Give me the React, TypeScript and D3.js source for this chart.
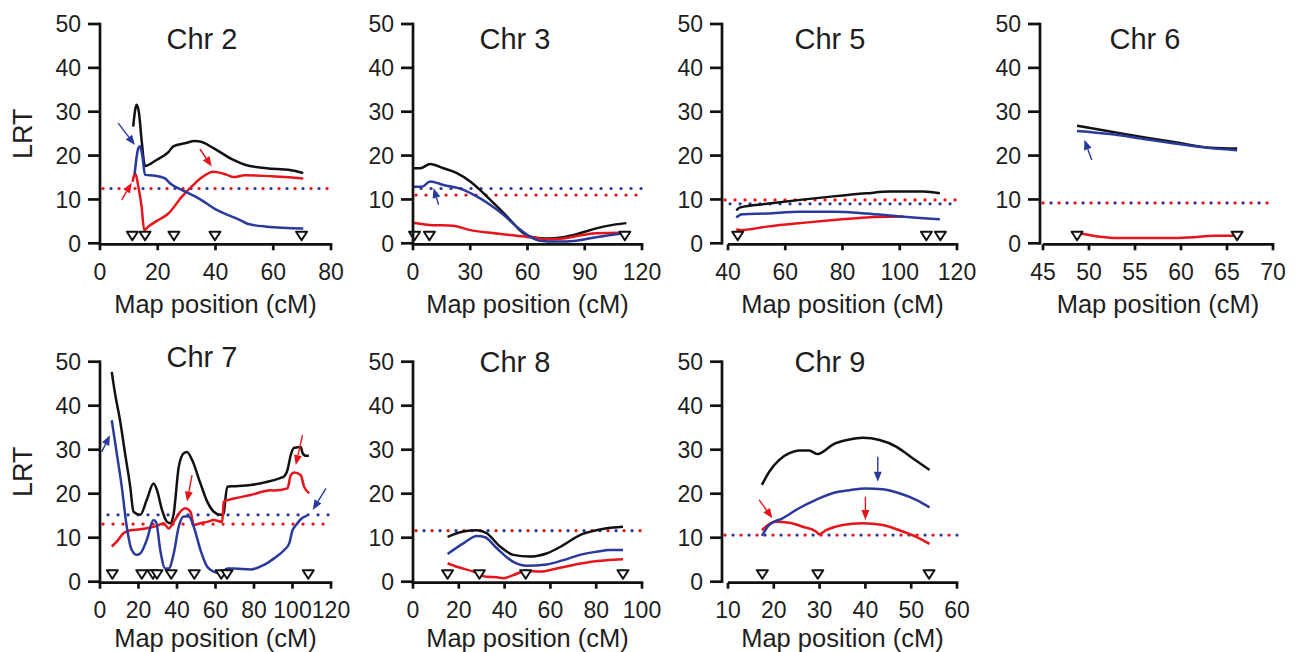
import React from 'react';
import * as d3 from 'd3';

type P = [number, number];

// ---------- data (cM, LRT) ----------
const chr2Black: P[] = [[11.5,26.6],[12.2,30.5],[12.7,31.6],[13.5,29.7],[14.4,23.6],[15.6,17.6],[17.9,18.3],[19.6,19.0],[23.7,20.8],[25.4,22.1],[29.4,22.8],[32.9,23.3],[34.6,23.2],[39.3,21.7],[46.2,19.0],[50.2,17.9],[57.7,17.1],[65.8,16.7],[70.4,16.0]];
const chr2Blue: P[] = [[12.0,15.8],[12.7,19.8],[13.3,21.7],[13.9,22.1],[14.7,19.8],[15.6,15.6],[19.0,15.4],[22.5,14.8],[24.2,13.7],[28.3,12.2],[34.0,10.3],[40.4,7.6],[48.5,5.3],[51.4,4.4],[57.7,3.8],[70.4,3.4]];
const chr2Red: P[] = [[11.3,14.0],[12.1,16.0],[13.3,12.9],[14.4,8.4],[15.3,3.0],[16.7,3.8],[20.2,5.3],[23.7,6.8],[28.3,10.6],[31.7,12.9],[35.2,15.0],[39.3,16.3],[44.0,15.6],[46.2,15.1],[50.2,15.5],[70.4,14.8]];
const chr2Markers = [11.2, 15.6, 25.6, 39.8, 69.8];
const chr2Ticks = [0, 20, 40, 60, 80];

const chr3Black: P[] = [[0,17.1],[3.8,17.1],[9,18.1],[16,17.1],[23,16.0],[30,14.1],[37,11.4],[44,8.4],[51,5.3],[57.8,2.3],[63,1.4],[70,1.1],[78.7,1.4],[87.4,2.3],[96,3.4],[104.8,4.2],[111.8,4.6]];
const chr3Blue: P[] = [[0,12.9],[4.7,12.9],[9,14.1],[16,13.3],[26.5,12.2],[33.4,10.7],[40.4,8.8],[47.4,6.5],[54.3,3.8],[61.3,1.5],[66.5,0.6],[75.2,0.4],[85.7,0.6],[96,1.4],[110,2.3]];
const chr3Red: P[] = [[0,4.7],[9,4.2],[21,4.0],[30,3.0],[40.4,2.4],[50.9,1.9],[61.3,1.4],[70,0.9],[78.7,1.1],[89,1.9],[96,2.3],[110,2.4]];
const chr3Markers = [0.8, 8.6, 111];
const chr3Ticks = [0, 30, 60, 90, 120];

const chr5Black: P[] = [[42.9,7.5],[44.3,8.2],[53.6,9.0],[65.2,9.9],[76.8,10.7],[88.4,11.4],[96.5,11.8],[108.2,11.8],[114,11.4]];
const chr5Blue: P[] = [[42.9,5.9],[44.9,6.6],[53.6,6.8],[65.2,7.2],[76.8,7.2],[88.4,6.8],[100,6.1],[114,5.5]];
const chr5Red: P[] = [[42.9,3.2],[44.3,3.0],[53.6,3.8],[65.2,4.6],[76.8,5.3],[88.4,5.9],[101.2,6.1]];
const chr5Markers = [43.4, 109.3, 114.2];
const chr5Ticks = [40, 60, 80, 100, 120];

const chr6Black: P[] = [[48.7,26.8],[52.3,25.5],[55.9,24.2],[59.5,23.0],[63.2,21.8],[66.1,21.6]];
const chr6Blue: P[] = [[48.7,25.6],[52.3,24.9],[55.9,23.8],[59.5,22.7],[63.2,21.7],[66.1,21.2]];
const chr6Red: P[] = [[48.7,2.3],[49.4,2.1],[51.2,1.5],[53,1.2],[57.7,1.2],[61.4,1.4],[63.5,1.7],[66.1,1.7]];
const chr6Markers = [48.7, 66.1];
const chr6Ticks = [45, 50, 55, 60, 65, 70];

const chr7Black: P[] = [[6.1,47.7],[7.8,42.8],[10.4,36.7],[13,29.2],[15.7,21.6],[17.4,15.9],[20.9,15.2],[24.3,18.6],[27.8,22.3],[29.6,20.8],[32.2,16.3],[34.8,13.6],[36.5,13.3],[38.3,15.5],[40.9,26.1],[43.5,29.2],[45.2,29.5],[47.8,27.7],[52.2,22.3],[55.7,18.2],[59.1,15.9],[62.6,15.2],[64,15.2],[66.1,21.6],[69.6,21.7],[78.3,22.0],[87,22.7],[93.9,23.6],[95.6,23.9],[97.4,25.4],[99.1,28.8],[100.7,30.4],[104.3,30.6],[105.2,29.3],[107,28.6],[108.5,28.6]];
const chr7Blue: P[] = [[6.1,36.7],[8.7,29.2],[11.3,21.6],[13.9,12.5],[16.5,7.2],[19.1,6.1],[20.9,6.4],[24.3,9.5],[27.8,14.0],[29.2,13.5],[31.3,7.2],[33.9,3.0],[35.7,3.0],[38.3,6.4],[40.9,12.5],[43.5,14.8],[46.1,14.8],[48.7,12.5],[52.2,7.2],[55.7,3.4],[59.1,2.3],[62.6,1.9],[66.1,3.0],[69.6,3.0],[78.3,2.8],[85.2,3.8],[90.4,5.3],[95.7,7.2],[98.3,8.7],[100,11.7],[101.7,12.8],[104.3,14.2],[107.5,15.0]];
const chr7Red: P[] = [[6.1,8.0],[8.7,9.1],[12.2,11.0],[15.7,11.7],[20.9,11.9],[26.1,12.3],[29.6,12.7],[33,13.3],[35.7,12.1],[38.3,13.6],[41.7,15.9],[44.3,16.7],[47,15.9],[48.7,12.9],[52.2,13.3],[55.7,13.6],[59.1,14.0],[63.5,13.6],[64.3,18.2],[69.6,18.9],[78.3,19.7],[88.7,20.8],[90.4,20.7],[97.4,21.2],[99.1,24.2],[100.9,24.8],[104.3,24.2],[106,21.6],[108.7,20.1]];
const chr7Markers = [6.4, 21.7, 27.5, 29.6, 37, 49, 63, 66, 108.2];
const chr7Ticks = [0, 20, 40, 60, 80, 100, 120];

const chr8Black: P[] = [[15.1,10.2],[22,11.4],[27.9,11.7],[32.2,11.0],[38,8.0],[43.8,6.1],[51,5.7],[58.3,6.4],[65.6,8.3],[72.9,10.6],[80.1,11.7],[87.4,12.3],[91.7,12.5]];
const chr8Blue: P[] = [[15.1,6.3],[22,8.7],[27.9,10.4],[31.5,10.1],[36.6,7.6],[43.8,4.5],[49.6,3.6],[58.3,3.9],[65.6,4.9],[72.9,6.1],[80.1,6.8],[85.9,7.2],[91.7,7.2]];
const chr8Red: P[] = [[15.1,4.2],[19.2,3.4],[26.4,2.3],[32.2,1.1],[36.6,1.0],[39.5,0.8],[43.8,1.5],[49.6,2.5],[55.4,2.3],[62.7,3.0],[70,3.8],[77.2,4.5],[84.5,4.9],[91.7,5.1]];
const chr8Markers = [15.1, 29, 49.2, 91.7];
const chr8Ticks = [0, 20, 40, 60, 80, 100];

const chr9Black: P[] = [[17.4,22.0],[19,25.0],[21.2,27.7],[23.4,29.2],[25.5,29.8],[27.7,29.8],[29.6,29.0],[30.7,29.5],[32.8,31.1],[36.5,32.3],[39.4,32.7],[43.1,32.2],[46.7,30.7],[50.4,28.0],[54,25.4]];
const chr9Blue: P[] = [[17.4,10.4],[19,12.9],[21.9,14.4],[25.5,16.7],[29.2,18.6],[32.8,20.1],[36.5,20.8],[40.1,21.2],[43.8,21.0],[47.4,20.1],[51.1,18.6],[54,16.9]];
const chr9Red: P[] = [[17.4,11.7],[19,13.1],[20.4,13.6],[23.4,13.4],[26.3,12.5],[29.2,11.4],[29.9,10.8],[31.4,11.7],[35,12.9],[39.4,13.3],[43.8,12.9],[48.2,11.4],[51.1,10.2],[54,8.6]];
const chr9Markers = [17.5, 29.6, 53.9];
const chr9Ticks = [10, 20, 30, 40, 50, 60];

const yTicks = [0, 10, 20, 30, 40, 50];

type Arrow = { c: 'blue' | 'red'; from: P; to: P };
const chr2Arrows: Arrow[] = [
  { c: 'blue', from: [6.3, 27.4], to: [12.1, 22.4] },
  { c: 'red', from: [7.5, 9.9], to: [11, 13.8] },
  { c: 'red', from: [34.6, 21.5], to: [38.7, 17.5] },
];
const chr3Arrows: Arrow[] = [{ c: 'blue', from: [13.4, 8.8], to: [10.8, 12.6] }];
const chr6Arrows: Arrow[] = [{ c: 'blue', from: [50.3, 19.0], to: [49.5, 23.6] }];
const chr7Arrows: Arrow[] = [
  { c: 'blue', from: [0.9, 29.5], to: [5.2, 33.3] },
  { c: 'red', from: [47.8, 24.2], to: [45.2, 18.2] },
  { c: 'red', from: [105.2, 33.3], to: [101.7, 26.5] },
  { c: 'blue', from: [117.4, 21.2], to: [110.5, 16.3] },
];
const chr9Arrows: Arrow[] = [
  { c: 'blue', from: [42.7, 28.4], to: [42.7, 22.7] },
  { c: 'red', from: [40, 19.3], to: [40, 14.0] },
  { c: 'red', from: [16.8, 18.6], to: [19.7, 14.4] },
];

// ---------- layout ----------
const COLORS = { black: '#111111', blue: '#2a3a9c', red: '#e8141c', text: '#1e1e1e' };
const colYAxis = [100, 413, 722, 1040];
const colXRange: P[] = [[100, 331], [413, 642], [728, 957], [1043, 1273]];
const rowY0 = [243.3, 581.7];
const rowYTop = [24, 361.7];
const rowTickLabelY = [280, 618];
const rowAxisTitleY = [312.5, 647];

type Panel = {
  title: string; col: number; row: number; domain: P; ticks: number[];
  black: P[]; blue: P[]; red: P[]; markers: number[];
  thrRed: number; thrBlue: number; arrows: Arrow[]; titleY: number; lrt?: boolean;
};

const panels: Panel[] = [
  { title: 'Chr 2', col: 0, row: 0, domain: [0, 80], ticks: chr2Ticks, black: chr2Black, blue: chr2Blue, red: chr2Red, markers: chr2Markers, thrRed: 12.5, thrBlue: 12.5, arrows: chr2Arrows, titleY: 48.5, lrt: true },
  { title: 'Chr 3', col: 1, row: 0, domain: [0, 120], ticks: chr3Ticks, black: chr3Black, blue: chr3Blue, red: chr3Red, markers: chr3Markers, thrRed: 11.0, thrBlue: 12.5, arrows: chr3Arrows, titleY: 48.5 },
  { title: 'Chr 5', col: 2, row: 0, domain: [40, 120], ticks: chr5Ticks, black: chr5Black, blue: chr5Blue, red: chr5Red, markers: chr5Markers, thrRed: 9.9, thrBlue: 9.0, arrows: [], titleY: 48.5 },
  { title: 'Chr 6', col: 3, row: 0, domain: [45, 70], ticks: chr6Ticks, black: chr6Black, blue: chr6Blue, red: chr6Red, markers: chr6Markers, thrRed: 9.2, thrBlue: 9.2, arrows: chr6Arrows, titleY: 48.5 },
  { title: 'Chr 7', col: 0, row: 1, domain: [0, 120], ticks: chr7Ticks, black: chr7Black, blue: chr7Blue, red: chr7Red, markers: chr7Markers, thrRed: 13.1, thrBlue: 15.2, arrows: chr7Arrows, titleY: 367, lrt: true },
  { title: 'Chr 8', col: 1, row: 1, domain: [0, 100], ticks: chr8Ticks, black: chr8Black, blue: chr8Blue, red: chr8Red, markers: chr8Markers, thrRed: 11.6, thrBlue: 11.6, arrows: [], titleY: 372 },
  { title: 'Chr 9', col: 2, row: 1, domain: [10, 60], ticks: chr9Ticks, black: chr9Black, blue: chr9Blue, red: chr9Red, markers: chr9Markers, thrRed: 10.6, thrBlue: 10.6, arrows: chr9Arrows, titleY: 372 },
];

const FONT = '"Liberation Sans", Arial, Helvetica, sans-serif';

function ArrowMark({ a, x, y }: { a: Arrow; x: d3.ScaleLinear<number, number>; y: d3.ScaleLinear<number, number> }) {
  const x1 = x(a.from[0]), y1 = y(a.from[1]);
  const x2 = x(a.to[0]), y2 = y(a.to[1]);
  const ang = Math.atan2(y2 - y1, x2 - x1);
  const L = 10, W = 4;
  const bx = x2 - L * Math.cos(ang), by = y2 - L * Math.sin(ang);
  const px = -Math.sin(ang) * W, py = Math.cos(ang) * W;
  const col = COLORS[a.c];
  return (
    <g>
      <line x1={x1} y1={y1} x2={bx} y2={by} stroke={col} strokeWidth={1.4} />
      <polygon points={`${x2},${y2} ${bx + px},${by + py} ${bx - px},${by - py}`} fill={col} />
    </g>
  );
}

function PanelView({ p }: { p: Panel }) {
  const xr = colXRange[p.col];
  const yAxisX = colYAxis[p.col];
  const y0 = rowY0[p.row];
  const x = d3.scaleLinear().domain(p.domain).range(xr);
  const y = d3.scaleLinear().domain([0, 50]).range([y0, rowYTop[p.row]]);
  const line = d3.line<P>().x(d => x(d[0])).y(d => y(d[1])).curve(d3.curveMonotoneX);
  const same = Math.abs(p.thrRed - p.thrBlue) < 0.05;
  const period = same ? 16 : 10;
  const xEnd = xr[1];
  const titleX = xr[0] + 102;
  const midX = (xr[0] + xr[1]) / 2;
  const axisW = 2.7;
  const lw = 2.5;
  return (
    <g>
      {/* threshold dotted lines */}
      <line x1={yAxisX + 3} x2={xEnd} y1={y(p.thrRed)} y2={y(p.thrRed)} stroke={COLORS.red} strokeWidth={3.2}
        strokeLinecap="round" strokeDasharray={`0.1 ${period - 0.1}`} strokeDashoffset={0} />
      <line x1={yAxisX + 3} x2={xEnd} y1={y(p.thrBlue)} y2={y(p.thrBlue)} stroke={COLORS.blue} strokeWidth={3.2}
        strokeLinecap="round" strokeDasharray={`0.1 ${period - 0.1}`} strokeDashoffset={-period / 2} />
      {/* curves */}
      <path d={line(p.black) || ''} fill="none" stroke={COLORS.black} strokeWidth={lw} strokeLinejoin="round" />
      <path d={line(p.red) || ''} fill="none" stroke={COLORS.red} strokeWidth={lw} strokeLinejoin="round" />
      <path d={line(p.blue) || ''} fill="none" stroke={COLORS.blue} strokeWidth={lw} strokeLinejoin="round" />
      {/* arrows */}
      {p.arrows.map((a, i) => <ArrowMark key={i} a={a} x={x} y={y} />)}
      {/* markers */}
      {p.markers.map((m, i) => {
        const cx = x(m);
        return <polygon key={i} points={`${cx - 5.5},${y0 - 11.5} ${cx + 5.5},${y0 - 11.5} ${cx},${y0 - 3}`} fill="#fff" stroke="#111" strokeWidth={2} strokeLinejoin="round" />;
      })}
      {/* y axis */}
      <line x1={yAxisX} x2={yAxisX} y1={rowYTop[p.row] - 1.3} y2={y0 + 1.3} stroke="#111" strokeWidth={axisW} />
      {yTicks.map(t => (
        <g key={t}>
          <line x1={yAxisX - 12} x2={yAxisX} y1={y(t)} y2={y(t)} stroke="#111" strokeWidth={axisW} />
          <text x={yAxisX - 19} y={y(t)} dy="0.36em" textAnchor="end" fontSize={23} fontFamily={FONT} fill={COLORS.text}>{t}</text>
        </g>
      ))}
      {/* x axis */}
      <line x1={xr[0] - (xr[0] === yAxisX ? 1.3 : 0)} x2={xEnd + 1.3} y1={y0 + 1} y2={y0 + 1} stroke="#111" strokeWidth={axisW} />
      {p.ticks.map(t => (
        <g key={t}>
          <line x1={x(t)} x2={x(t)} y1={y0 + 1} y2={y0 + 7} stroke="#111" strokeWidth={axisW} />
          <text x={x(t)} y={rowTickLabelY[p.row]} textAnchor="middle" fontSize={23} fontFamily={FONT} fill={COLORS.text}>{t}</text>
        </g>
      ))}
      <text x={midX} y={rowAxisTitleY[p.row]} textAnchor="middle" fontSize={25.5} fontFamily={FONT} fill={COLORS.text}>Map position (cM)</text>
      <text x={titleX} y={p.titleY} textAnchor="middle" fontSize={29} fontFamily={FONT} fill={COLORS.text}>{p.title}</text>
      {p.lrt && (
        <text transform={`translate(32,${(y0 + rowYTop[p.row]) / 2}) rotate(-90)`} textAnchor="middle" fontSize={27} fontFamily={FONT} fill={COLORS.text}>LRT</text>
      )}
    </g>
  );
}

export default function App() {
  return (
    <svg width={1297} height={652} style={{ position: 'absolute', left: 0, top: 0, background: '#fff' }}>
      <rect width={1297} height={652} fill="#fff" />
      {panels.map(p => <PanelView key={p.title} p={p} />)}
    </svg>
  );
}
